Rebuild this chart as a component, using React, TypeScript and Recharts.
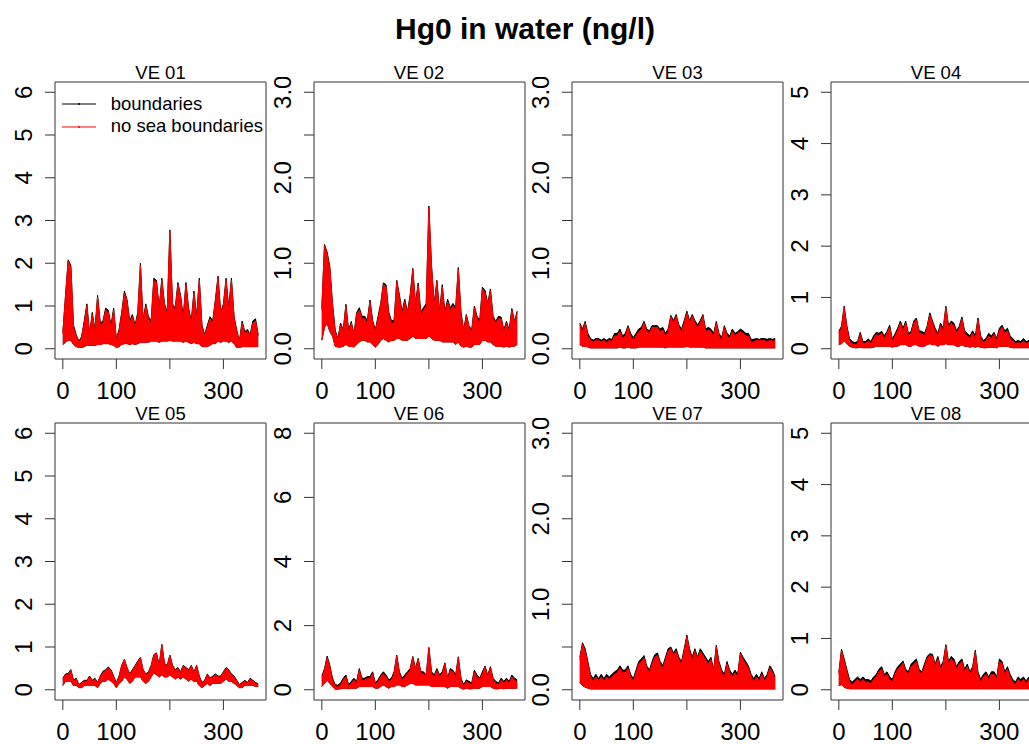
import { AreaChart, Area, XAxis, YAxis, ReferenceArea, Legend } from 'recharts';

const FONT = '"Liberation Sans", Arial, Helvetica, sans-serif';

// day of the year, one reading every 5 days
const days = Array.from({ length: 74 }, (_, i) => i * 5);

const seriesNames = ['boundaries', 'no sea boundaries'];
const seriesColors = ['#000000', '#ff0000'];

const xTicks = [0, 100, 200, 300];

// hi / lo = envelope of the red run, black = top of the black run (ng/l)
const ve01Hi = [0.35, 1.2, 2.05, 1.9, 0.5, 0.3, 0.15, 0.25, 0.6, 1.0, 0.3, 0.8, 0.4, 1.2, 0.55, 0.6, 0.9, 0.85, 0.5, 0.9, 0.2, 0.4, 0.8, 1.3, 1.1, 0.6, 0.75, 0.5, 0.8, 1.95, 0.6, 1.0, 0.7, 0.6, 1.6, 1.55, 0.9, 1.6, 1.0, 0.8, 2.75, 1.0, 0.9, 1.5, 1.2, 0.7, 1.5, 0.9, 0.6, 1.3, 0.7, 1.6, 0.5, 0.3, 0.5, 0.7, 0.6, 1.1, 1.65, 0.8, 1.0, 1.6, 0.9, 1.6, 0.7, 0.4, 0.15, 0.6, 0.35, 0.4, 0.3, 0.6, 0.65, 0.3];
const ve01Lo = [0.1, 0.15, 0.2, 0.2, 0.1, 0.05, 0.03, 0.03, 0.05, 0.08, 0.08, 0.08, 0.08, 0.1, 0.1, 0.12, 0.12, 0.12, 0.1, 0.08, 0.03, 0.05, 0.1, 0.12, 0.12, 0.1, 0.12, 0.1, 0.12, 0.15, 0.15, 0.15, 0.15, 0.18, 0.18, 0.18, 0.15, 0.18, 0.18, 0.18, 0.2, 0.18, 0.18, 0.18, 0.18, 0.15, 0.18, 0.15, 0.12, 0.15, 0.12, 0.12, 0.05, 0.05, 0.05, 0.08, 0.12, 0.12, 0.18, 0.15, 0.18, 0.18, 0.15, 0.18, 0.12, 0.03, 0.03, 0.05, 0.05, 0.05, 0.05, 0.05, 0.05, 0.05];
const ve01Black = [0.38, 1.25, 2.08, 1.95, 0.55, 0.33, 0.18, 0.28, 0.65, 1.05, 0.35, 0.85, 0.45, 1.25, 0.6, 0.65, 0.95, 0.9, 0.55, 0.95, 0.22, 0.45, 0.85, 1.35, 1.15, 0.65, 0.8, 0.55, 0.85, 2.0, 0.65, 1.05, 0.75, 0.65, 1.65, 1.6, 0.95, 1.65, 1.05, 0.85, 2.78, 1.05, 0.95, 1.55, 1.25, 0.75, 1.55, 0.95, 0.65, 1.35, 0.75, 1.65, 0.55, 0.33, 0.55, 0.75, 0.65, 1.15, 1.7, 0.85, 1.05, 1.65, 0.95, 1.65, 0.75, 0.43, 0.18, 0.65, 0.4, 0.45, 0.33, 0.65, 0.7, 0.33];

const ve02Hi = [0.45, 1.2, 1.1, 0.93, 0.5, 0.2, 0.1, 0.28, 0.2, 0.5, 0.2, 0.3, 0.15, 0.4, 0.45, 0.35, 0.35, 0.3, 0.55, 0.3, 0.2, 0.35, 0.5, 0.75, 0.72, 0.4, 0.3, 0.3, 0.78, 0.6, 0.4, 0.55, 0.4, 0.6, 0.92, 0.5, 0.74, 0.4, 0.45, 0.5, 1.65, 0.95, 0.5, 0.78, 0.4, 0.72, 0.4, 0.55, 0.45, 0.5, 0.45, 0.93, 0.4, 0.2, 0.38, 0.25, 0.2, 0.48, 0.35, 0.3, 0.7, 0.65, 0.5, 0.68, 0.35, 0.3, 0.35, 0.35, 0.2, 0.3, 0.2, 0.45, 0.3, 0.42];
const ve02Lo = [0.1, 0.25, 0.3, 0.2, 0.15, 0.03, 0.02, 0.02, 0.03, 0.05, 0.03, 0.03, 0.02, 0.05, 0.08, 0.1, 0.1, 0.08, 0.08, 0.05, 0.02, 0.05, 0.1, 0.12, 0.1, 0.08, 0.1, 0.1, 0.12, 0.12, 0.1, 0.1, 0.1, 0.12, 0.15, 0.12, 0.12, 0.12, 0.12, 0.12, 0.15, 0.12, 0.1, 0.1, 0.1, 0.08, 0.08, 0.08, 0.08, 0.08, 0.05, 0.08, 0.03, 0.02, 0.03, 0.02, 0.02, 0.05, 0.05, 0.05, 0.1, 0.1, 0.08, 0.08, 0.05, 0.03, 0.03, 0.03, 0.02, 0.03, 0.02, 0.03, 0.03, 0.05];
const ve02Black = [0.48, 1.22, 1.13, 0.96, 0.53, 0.22, 0.12, 0.3, 0.22, 0.52, 0.22, 0.32, 0.17, 0.42, 0.48, 0.38, 0.38, 0.33, 0.57, 0.33, 0.22, 0.38, 0.53, 0.77, 0.75, 0.43, 0.33, 0.33, 0.8, 0.63, 0.43, 0.58, 0.43, 0.63, 0.94, 0.53, 0.77, 0.43, 0.48, 0.53, 1.67, 0.97, 0.53, 0.8, 0.43, 0.75, 0.43, 0.58, 0.48, 0.53, 0.48, 0.95, 0.43, 0.22, 0.4, 0.27, 0.22, 0.5, 0.38, 0.33, 0.72, 0.68, 0.53, 0.7, 0.38, 0.32, 0.38, 0.37, 0.22, 0.32, 0.22, 0.47, 0.32, 0.44];

const ve03Hi = [0.28, 0.2, 0.3, 0.15, 0.1, 0.08, 0.1, 0.1, 0.08, 0.1, 0.07, 0.1, 0.08, 0.15, 0.15, 0.2, 0.12, 0.15, 0.25, 0.15, 0.1, 0.15, 0.2, 0.22, 0.3, 0.2, 0.18, 0.25, 0.25, 0.25, 0.2, 0.22, 0.15, 0.2, 0.37, 0.3, 0.38, 0.25, 0.2, 0.3, 0.42, 0.3, 0.38, 0.3, 0.25, 0.3, 0.38, 0.2, 0.22, 0.2, 0.15, 0.3, 0.15, 0.1, 0.25, 0.15, 0.12, 0.2, 0.15, 0.18, 0.2, 0.18, 0.15, 0.15, 0.08, 0.08, 0.1, 0.09, 0.1, 0.1, 0.08, 0.1, 0.09, 0.1];
const ve03Lo = [0.05, 0.03, 0.03, 0.02, 0.01, 0.01, 0.01, 0.01, 0.01, 0.01, 0.01, 0.01, 0.01, 0.01, 0.01, 0.02, 0.01, 0.01, 0.02, 0.01, 0.01, 0.01, 0.02, 0.02, 0.02, 0.02, 0.02, 0.02, 0.02, 0.02, 0.02, 0.02, 0.01, 0.02, 0.02, 0.02, 0.02, 0.02, 0.02, 0.02, 0.03, 0.02, 0.02, 0.02, 0.02, 0.02, 0.02, 0.01, 0.01, 0.01, 0.01, 0.01, 0.01, 0.01, 0.01, 0.01, 0.01, 0.01, 0.01, 0.01, 0.01, 0.01, 0.01, 0.01, 0.01, 0.01, 0.01, 0.01, 0.01, 0.01, 0.01, 0.01, 0.01, 0.01];
const ve03Black = [0.3, 0.23, 0.32, 0.18, 0.12, 0.1, 0.12, 0.12, 0.1, 0.12, 0.1, 0.12, 0.11, 0.18, 0.18, 0.23, 0.15, 0.18, 0.27, 0.18, 0.13, 0.18, 0.23, 0.25, 0.32, 0.23, 0.21, 0.27, 0.27, 0.27, 0.23, 0.25, 0.18, 0.23, 0.39, 0.33, 0.4, 0.28, 0.23, 0.33, 0.44, 0.33, 0.4, 0.33, 0.28, 0.33, 0.4, 0.23, 0.25, 0.23, 0.18, 0.32, 0.18, 0.13, 0.27, 0.18, 0.15, 0.23, 0.18, 0.2, 0.23, 0.21, 0.18, 0.18, 0.11, 0.11, 0.12, 0.11, 0.12, 0.12, 0.11, 0.12, 0.11, 0.12];

const ve04Hi = [0.3, 0.4, 0.8, 0.4, 0.15, 0.1, 0.08, 0.1, 0.28, 0.1, 0.1, 0.15, 0.1, 0.2, 0.28, 0.25, 0.3, 0.2, 0.3, 0.42, 0.15, 0.25, 0.35, 0.5, 0.35, 0.5, 0.25, 0.3, 0.5, 0.56, 0.3, 0.3, 0.25, 0.4, 0.66, 0.5, 0.35, 0.25, 0.45, 0.35, 0.8, 0.4, 0.5, 0.45, 0.3, 0.4, 0.58, 0.3, 0.25, 0.2, 0.3, 0.2, 0.56, 0.2, 0.12, 0.15, 0.25, 0.2, 0.28, 0.15, 0.35, 0.42, 0.3, 0.35, 0.2, 0.15, 0.1, 0.12, 0.1, 0.15, 0.1, 0.12, 0.15, 0.2];
const ve04Lo = [0.08, 0.1, 0.15, 0.1, 0.05, 0.03, 0.02, 0.02, 0.03, 0.02, 0.02, 0.02, 0.02, 0.03, 0.05, 0.05, 0.05, 0.05, 0.05, 0.05, 0.03, 0.05, 0.05, 0.08, 0.08, 0.08, 0.05, 0.05, 0.08, 0.08, 0.05, 0.05, 0.05, 0.08, 0.1, 0.08, 0.08, 0.05, 0.08, 0.08, 0.1, 0.08, 0.08, 0.08, 0.05, 0.05, 0.08, 0.05, 0.05, 0.03, 0.05, 0.03, 0.05, 0.03, 0.02, 0.02, 0.03, 0.03, 0.03, 0.02, 0.05, 0.05, 0.05, 0.05, 0.03, 0.02, 0.02, 0.02, 0.02, 0.02, 0.02, 0.02, 0.02, 0.03];
const ve04Black = [0.34, 0.44, 0.83, 0.45, 0.2, 0.14, 0.12, 0.14, 0.32, 0.14, 0.14, 0.19, 0.14, 0.25, 0.32, 0.3, 0.34, 0.25, 0.34, 0.46, 0.19, 0.29, 0.4, 0.54, 0.4, 0.54, 0.3, 0.34, 0.54, 0.6, 0.35, 0.34, 0.3, 0.44, 0.7, 0.54, 0.4, 0.3, 0.5, 0.4, 0.83, 0.45, 0.54, 0.5, 0.35, 0.44, 0.62, 0.35, 0.3, 0.25, 0.35, 0.25, 0.6, 0.25, 0.16, 0.2, 0.3, 0.25, 0.32, 0.2, 0.4, 0.46, 0.35, 0.4, 0.25, 0.2, 0.14, 0.16, 0.14, 0.2, 0.14, 0.16, 0.2, 0.24];

const ve05Hi = [0.25, 0.35, 0.35, 0.45, 0.2, 0.25, 0.1, 0.15, 0.2, 0.2, 0.3, 0.2, 0.25, 0.15, 0.3, 0.4, 0.45, 0.5, 0.45, 0.3, 0.15, 0.3, 0.55, 0.7, 0.5, 0.35, 0.45, 0.55, 0.65, 0.75, 0.45, 0.35, 0.4, 0.55, 0.8, 0.85, 0.55, 1.05, 0.6, 0.55, 0.8, 0.55, 0.45, 0.5, 0.4, 0.55, 0.5, 0.45, 0.55, 0.4, 0.55, 0.3, 0.15, 0.2, 0.35, 0.25, 0.3, 0.35, 0.3, 0.3, 0.4, 0.5, 0.45, 0.35, 0.3, 0.2, 0.1, 0.15, 0.2, 0.15, 0.25, 0.2, 0.15, 0.12];
const ve05Lo = [0.1, 0.2, 0.2, 0.2, 0.1, 0.1, 0.05, 0.05, 0.1, 0.1, 0.1, 0.1, 0.1, 0.05, 0.15, 0.2, 0.2, 0.25, 0.2, 0.15, 0.05, 0.15, 0.2, 0.3, 0.25, 0.15, 0.2, 0.3, 0.3, 0.3, 0.2, 0.15, 0.2, 0.3, 0.4, 0.35, 0.3, 0.35, 0.3, 0.3, 0.35, 0.3, 0.25, 0.3, 0.25, 0.3, 0.25, 0.2, 0.25, 0.2, 0.2, 0.1, 0.05, 0.1, 0.15, 0.1, 0.15, 0.15, 0.15, 0.15, 0.2, 0.25, 0.2, 0.2, 0.15, 0.1, 0.05, 0.05, 0.1, 0.1, 0.1, 0.1, 0.08, 0.08];
const ve05Black = [0.27, 0.37, 0.38, 0.47, 0.22, 0.27, 0.12, 0.17, 0.22, 0.22, 0.32, 0.22, 0.27, 0.17, 0.32, 0.43, 0.47, 0.53, 0.47, 0.32, 0.17, 0.32, 0.57, 0.71, 0.52, 0.37, 0.47, 0.57, 0.67, 0.76, 0.47, 0.37, 0.42, 0.57, 0.82, 0.86, 0.57, 1.06, 0.62, 0.57, 0.81, 0.57, 0.47, 0.52, 0.42, 0.57, 0.52, 0.47, 0.57, 0.42, 0.57, 0.32, 0.17, 0.22, 0.37, 0.27, 0.32, 0.37, 0.32, 0.32, 0.42, 0.52, 0.47, 0.37, 0.32, 0.22, 0.12, 0.17, 0.22, 0.17, 0.27, 0.22, 0.17, 0.14];

const ve06Hi = [0.35, 0.6, 1.0, 0.7, 0.3, 0.1, 0.08, 0.15, 0.3, 0.4, 0.1, 0.2, 0.3, 0.2, 0.6, 0.3, 0.3, 0.35, 0.35, 0.5, 0.15, 0.25, 0.4, 0.5, 0.4, 0.25, 0.3, 0.5, 1.05, 0.5, 0.3, 0.4, 0.5, 0.6, 1.0, 0.6, 0.95, 0.5, 0.5, 0.4, 1.3, 0.5, 0.4, 0.6, 0.4, 0.5, 0.8, 0.3, 0.6, 0.55, 0.4, 1.0, 0.3, 0.1, 0.25, 0.2, 0.15, 0.55, 0.4, 0.3, 0.5, 0.7, 0.4, 0.68, 0.3, 0.2, 0.15, 0.3, 0.2, 0.3, 0.2, 0.4, 0.3, 0.25];
const ve06Lo = [0.1, 0.2, 0.3, 0.2, 0.1, 0.02, 0.02, 0.03, 0.05, 0.05, 0.03, 0.05, 0.05, 0.05, 0.1, 0.1, 0.1, 0.1, 0.1, 0.1, 0.05, 0.05, 0.1, 0.15, 0.1, 0.05, 0.1, 0.1, 0.15, 0.15, 0.1, 0.1, 0.15, 0.2, 0.2, 0.15, 0.15, 0.15, 0.15, 0.15, 0.15, 0.1, 0.1, 0.1, 0.1, 0.1, 0.1, 0.05, 0.1, 0.1, 0.1, 0.1, 0.05, 0.02, 0.05, 0.03, 0.03, 0.05, 0.05, 0.05, 0.1, 0.1, 0.1, 0.1, 0.05, 0.03, 0.03, 0.05, 0.03, 0.05, 0.05, 0.05, 0.05, 0.05];
const ve06Black = [0.42, 0.66, 1.05, 0.76, 0.36, 0.16, 0.14, 0.21, 0.36, 0.46, 0.16, 0.26, 0.36, 0.26, 0.66, 0.36, 0.36, 0.41, 0.41, 0.56, 0.21, 0.31, 0.46, 0.56, 0.46, 0.31, 0.36, 0.56, 1.08, 0.56, 0.36, 0.46, 0.56, 0.66, 1.04, 0.66, 0.98, 0.56, 0.56, 0.46, 1.32, 0.56, 0.46, 0.66, 0.46, 0.56, 0.84, 0.36, 0.66, 0.61, 0.46, 1.03, 0.36, 0.16, 0.31, 0.26, 0.21, 0.61, 0.46, 0.36, 0.56, 0.74, 0.46, 0.72, 0.36, 0.26, 0.21, 0.36, 0.26, 0.36, 0.26, 0.46, 0.36, 0.31];

const ve07Hi = [0.35, 0.53, 0.45, 0.3, 0.15, 0.1, 0.15, 0.1, 0.15, 0.1, 0.15, 0.12, 0.15, 0.18, 0.2, 0.25, 0.2, 0.2, 0.25, 0.15, 0.1, 0.2, 0.3, 0.33, 0.37, 0.25, 0.2, 0.3, 0.38, 0.4, 0.3, 0.25, 0.35, 0.45, 0.48, 0.4, 0.45, 0.35, 0.3, 0.45, 0.62, 0.45, 0.35, 0.45, 0.35, 0.45, 0.4, 0.35, 0.3, 0.35, 0.2, 0.5, 0.3, 0.2, 0.15, 0.3, 0.2, 0.15, 0.2, 0.15, 0.42, 0.35, 0.3, 0.25, 0.15, 0.1, 0.15, 0.1, 0.18, 0.1, 0.15, 0.25, 0.2, 0.12];
const ve07Lo = [0.08, 0.05, 0.03, 0.02, 0.01, 0.01, 0.01, 0.01, 0.01, 0.01, 0.01, 0.01, 0.01, 0.01, 0.01, 0.01, 0.01, 0.01, 0.01, 0.01, 0.01, 0.01, 0.01, 0.01, 0.01, 0.01, 0.01, 0.01, 0.01, 0.01, 0.01, 0.01, 0.01, 0.01, 0.01, 0.01, 0.01, 0.01, 0.01, 0.01, 0.01, 0.01, 0.01, 0.01, 0.01, 0.01, 0.01, 0.01, 0.01, 0.01, 0.01, 0.01, 0.01, 0.01, 0.01, 0.01, 0.01, 0.01, 0.01, 0.01, 0.01, 0.01, 0.01, 0.01, 0.01, 0.01, 0.01, 0.01, 0.01, 0.01, 0.01, 0.01, 0.01, 0.01];
const ve07Black = [0.38, 0.55, 0.48, 0.33, 0.18, 0.13, 0.18, 0.13, 0.18, 0.13, 0.18, 0.15, 0.18, 0.21, 0.23, 0.28, 0.23, 0.23, 0.28, 0.18, 0.13, 0.23, 0.33, 0.36, 0.4, 0.28, 0.23, 0.33, 0.41, 0.43, 0.33, 0.28, 0.38, 0.48, 0.5, 0.43, 0.48, 0.38, 0.33, 0.48, 0.64, 0.48, 0.38, 0.48, 0.38, 0.48, 0.43, 0.38, 0.33, 0.38, 0.23, 0.52, 0.33, 0.23, 0.18, 0.33, 0.23, 0.18, 0.23, 0.18, 0.44, 0.38, 0.33, 0.28, 0.18, 0.13, 0.18, 0.13, 0.21, 0.13, 0.18, 0.28, 0.23, 0.15];

const ve08Hi = [0.3, 0.75, 0.55, 0.35, 0.15, 0.1, 0.15, 0.2, 0.15, 0.2, 0.15, 0.15, 0.12, 0.2, 0.25, 0.35, 0.4, 0.25, 0.3, 0.2, 0.15, 0.3, 0.4, 0.45, 0.52, 0.35, 0.3, 0.45, 0.5, 0.55, 0.35, 0.3, 0.45, 0.6, 0.67, 0.65, 0.45, 0.6, 0.4, 0.5, 0.85, 0.5, 0.6, 0.55, 0.4, 0.5, 0.55, 0.35, 0.45, 0.3, 0.4, 0.73, 0.3, 0.15, 0.25, 0.3, 0.2, 0.3, 0.3, 0.2, 0.55, 0.5, 0.3, 0.4, 0.25, 0.15, 0.1, 0.2, 0.15, 0.2, 0.12, 0.2, 0.25, 0.3];
const ve08Lo = [0.08, 0.1, 0.05, 0.03, 0.02, 0.02, 0.02, 0.02, 0.02, 0.02, 0.02, 0.02, 0.02, 0.02, 0.02, 0.02, 0.02, 0.02, 0.02, 0.02, 0.02, 0.02, 0.02, 0.02, 0.02, 0.02, 0.02, 0.02, 0.02, 0.02, 0.02, 0.02, 0.02, 0.02, 0.02, 0.02, 0.02, 0.02, 0.02, 0.02, 0.02, 0.02, 0.02, 0.02, 0.02, 0.02, 0.02, 0.02, 0.02, 0.02, 0.02, 0.02, 0.02, 0.02, 0.02, 0.02, 0.02, 0.02, 0.02, 0.02, 0.02, 0.02, 0.02, 0.02, 0.02, 0.02, 0.02, 0.02, 0.02, 0.02, 0.02, 0.02, 0.02, 0.02];
const ve08Black = [0.34, 0.79, 0.6, 0.4, 0.2, 0.15, 0.2, 0.25, 0.2, 0.25, 0.2, 0.2, 0.17, 0.25, 0.3, 0.4, 0.45, 0.3, 0.35, 0.25, 0.2, 0.35, 0.45, 0.5, 0.56, 0.4, 0.35, 0.5, 0.55, 0.6, 0.4, 0.35, 0.5, 0.65, 0.7, 0.69, 0.5, 0.65, 0.45, 0.55, 0.88, 0.55, 0.65, 0.6, 0.45, 0.55, 0.6, 0.4, 0.5, 0.35, 0.45, 0.77, 0.35, 0.2, 0.3, 0.35, 0.25, 0.35, 0.35, 0.25, 0.6, 0.55, 0.35, 0.45, 0.3, 0.2, 0.15, 0.25, 0.2, 0.25, 0.17, 0.25, 0.3, 0.34];

const ticks0to3 = [0, 0.5, 1, 1.5, 2, 2.5, 3];
const ticks0to5 = [0, 1, 2, 3, 4, 5];
const ticks0to6 = [0, 1, 2, 3, 4, 5, 6];
const ticks0to8 = [0, 2, 4, 6, 8];

const panels = [
  { title: 'VE 01', hi: ve01Hi, lo: ve01Lo, black: ve01Black, yMax: 6, yTicks: ticks0to6, decimals: 0 },
  { title: 'VE 02', hi: ve02Hi, lo: ve02Lo, black: ve02Black, yMax: 3, yTicks: ticks0to3, decimals: 1 },
  { title: 'VE 03', hi: ve03Hi, lo: ve03Lo, black: ve03Black, yMax: 3, yTicks: ticks0to3, decimals: 1 },
  { title: 'VE 04', hi: ve04Hi, lo: ve04Lo, black: ve04Black, yMax: 5, yTicks: ticks0to5, decimals: 0 },
  { title: 'VE 05', hi: ve05Hi, lo: ve05Lo, black: ve05Black, yMax: 6, yTicks: ticks0to6, decimals: 0 },
  { title: 'VE 06', hi: ve06Hi, lo: ve06Lo, black: ve06Black, yMax: 8, yTicks: ticks0to8, decimals: 0 },
  { title: 'VE 07', hi: ve07Hi, lo: ve07Lo, black: ve07Black, yMax: 3, yTicks: ticks0to3, decimals: 1 },
  { title: 'VE 08', hi: ve08Hi, lo: ve08Lo, black: ve08Black, yMax: 5, yTicks: ticks0to5, decimals: 0 },
];

// layout (R's mfrow = c(2, 4), last column is cut at the page edge)
const COL_X = [55, 313.5, 572, 830.5];
const ROW_Y = [82, 423.3];
const BOX_W = 211;
const BOX_H = 277;
const Y_AXIS_W = 50;
const X_AXIS_H = 50;
const M_TOP = 5;
const M_RIGHT = 6;
const X_DOMAIN = [-14.6, 379.6];
const FS = 18.5;
const TICK_FS = 24;

const XTick = (props: any) => {
  const { x, y, payload } = props;
  if (payload.value === 200) return null; // R drops this label for lack of room
  return (
    <text x={x} y={y + 27.6} textAnchor='middle' fontFamily={FONT} fontSize={TICK_FS} fill='#000'>
      {payload.value}
    </text>
  );
};

const YTick = (props: any) => {
  const { x, y, payload, decimals } = props;
  if (!Number.isInteger(payload.value)) return null;
  const bx = x - 10.9;
  return (
    <text x={bx} y={y} transform={`rotate(-90, ${bx}, ${y})`} textAnchor='middle' fontFamily={FONT} fontSize={TICK_FS} fill='#000'>
      {payload.value.toFixed(decimals)}
    </text>
  );
};

const renderLegend = () => (
  <div style={{ fontFamily: FONT, fontSize: FS, color: '#000', whiteSpace: 'nowrap' }}>
    {seriesNames.map((name, i) => (
      <div key={name} style={{ display: 'flex', alignItems: 'center', height: 22.4 }}>
        <svg width={34} height={6} style={{ display: 'block', flex: 'none' }}>
          <line x1={0} y1={3} x2={34} y2={3} stroke={seriesColors[i]} strokeWidth={1.2} />
          <circle cx={17} cy={3} r={1} fill={seriesColors[i]} />
        </svg>
        <span style={{ marginLeft: 15, lineHeight: 1 }}>{name}</span>
      </div>
    ))}
  </div>
);

const Panel = ({ p, idx }: { p: (typeof panels)[number]; idx: number }) => {
  const col = idx % 4;
  const row = Math.floor(idx / 4);
  const data = days.map((d, i) => ({
    day: d,
    black: [p.lo[i], p.black[i]],
    red: [p.lo[i], p.hi[i]],
  }));
  const pad = p.yMax * 0.04;
  const yDomain = [-pad, p.yMax + pad];

  return (
    <div style={{ position: 'absolute', left: COL_X[col] - Y_AXIS_W, top: ROW_Y[row] - M_TOP }}>
      <AreaChart
        width={Y_AXIS_W + BOX_W + M_RIGHT}
        height={M_TOP + BOX_H + X_AXIS_H}
        data={data}
        margin={{ top: M_TOP, right: M_RIGHT, left: 0, bottom: 0 }}
      >
        <XAxis
          type='number'
          dataKey='day'
          domain={X_DOMAIN}
          ticks={xTicks}
          interval={0}
          allowDataOverflow
          height={X_AXIS_H}
          axisLine={false}
          tickSize={10}
          tickMargin={2}
          tickLine={{ stroke: '#333', strokeWidth: 1 }}
          tick={<XTick />}
        />
        <YAxis
          type='number'
          domain={yDomain}
          ticks={p.yTicks}
          interval={0}
          allowDataOverflow
          width={Y_AXIS_W}
          axisLine={false}
          tickSize={10}
          tickMargin={2}
          tickLine={{ stroke: '#333', strokeWidth: 1 }}
          tick={<YTick decimals={p.decimals} />}
        />
        <Area
          type='linear'
          dataKey='black'
          name={seriesNames[0]}
          stroke={seriesColors[0]}
          strokeWidth={1}
          fill={seriesColors[0]}
          fillOpacity={1}
          dot={false}
          activeDot={false}
          isAnimationActive={false}
        />
        <Area
          type='linear'
          dataKey='red'
          name={seriesNames[1]}
          stroke={seriesColors[1]}
          strokeWidth={1}
          fill={seriesColors[1]}
          fillOpacity={1}
          dot={false}
          activeDot={false}
          isAnimationActive={false}
        />
        <ReferenceArea
          x1={X_DOMAIN[0]}
          x2={X_DOMAIN[1]}
          y1={yDomain[0]}
          y2={yDomain[1]}
          fill='none'
          stroke='#333'
          strokeWidth={1}
          ifOverflow='visible'
        />
        {idx === 0 && (
          <Legend
            layout='vertical'
            align='center'
            verticalAlign='middle'
            content={renderLegend}
            wrapperStyle={{ left: 56.7, top: 16, width: 205 }}
          />
        )}
      </AreaChart>
    </div>
  );
};

const App = () => {
  return (
    <div
      style={{
        position: 'absolute',
        left: 0,
        top: 0,
        width: 1029,
        height: 744,
        overflow: 'hidden',
        background: '#fff',
        fontFamily: FONT,
      }}
    >
      {panels.map((p, i) => (
        <Panel key={p.title} p={p} idx={i} />
      ))}
      <svg width={1029} height={744} style={{ position: 'absolute', left: 0, top: 0, pointerEvents: 'none' }}>
        <text x={525} y={39} textAnchor='middle' fontFamily={FONT} fontSize={30} fontWeight='bold' fill='#000'>
          Hg0 in water (ng/l)
        </text>
        {panels.map((p, i) => (
          <text
            key={p.title}
            x={COL_X[i % 4] + BOX_W / 2}
            y={ROW_Y[Math.floor(i / 4)] - 3.5}
            textAnchor='middle'
            fontFamily={FONT}
            fontSize={FS}
            fill='#000'
          >
            {p.title}
          </text>
        ))}
      </svg>
    </div>
  );
};

export default App;
